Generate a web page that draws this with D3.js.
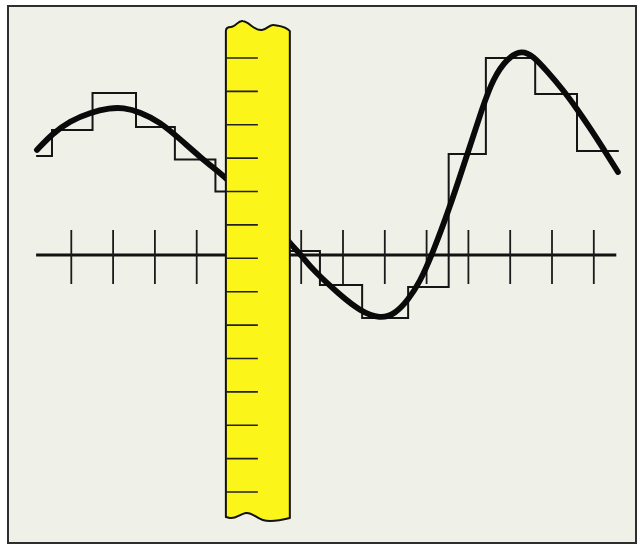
<!DOCTYPE html>
<html>
<head>
<meta charset="utf-8">
<script src="https://cdn.jsdelivr.net/npm/d3@7"></script>
<style>
  body { margin: 0; background: #fff; }
  svg { display: block; }
</style>
</head>
<body>
<svg class="chart"></svg>
<script>
// DATA /////////////////////////////////////////
// x in sample periods, y as fraction of full swing
const tickPositions = [1, 2, 3, 4, 6.5, 7.5, 8.5, 9.5, 10.5, 11.5, 12.5, 13.5];
const axisExtent = [0.17, 14.05];

const leftStepEdges = [0.17, 0.55, 1.52, 2.56, 3.49, 4.46, 5.0];
const leftStepLevels = [0.495, 0.625, 0.81, 0.64, 0.478, 0.318];
const rightStepEdges = [6.0, 6.96, 7.97, 9.07, 10.04, 10.93, 12.11, 13.11, 14.11];
const rightStepLevels = [0.02, -0.15, -0.315, -0.16, 0.505, 0.985, 0.805, 0.52];

const leftWaveX = [0.19, 0.55, 0.98, 1.46, 1.94, 2.25, 2.66, 3.13, 3.61, 4.09, 4.57, 4.76, 5.29];
const leftWaveY = [0.525, 0.605, 0.67, 0.712, 0.735, 0.737, 0.715, 0.665, 0.58, 0.49, 0.41, 0.375, 0.265];
const rightWaveX = [6.0, 6.24, 6.53, 6.79, 7.44, 7.92, 8.4, 8.76, 9.07, 9.35, 9.64, 10.07, 10.48, 10.86, 11.1, 11.44, 11.79, 12.06, 12.39, 12.78, 13.11, 13.42, 13.73, 14.09];
const rightWaveY = [0.115, 0.06, -0.005, -0.075, -0.2, -0.28, -0.32, -0.295, -0.225, -0.135, 0, 0.24, 0.5, 0.745, 0.88, 0.985, 1.025, 0.995, 0.92, 0.825, 0.73, 0.635, 0.535, 0.415];

const rulerSpan = [4.71, 6.24];
const rulerTicks = [0, 1, 2, 3, 4, 5, 6, 7, 8, 9, 10, 11, 12, 13];

// DEFINITIONS //////////////////////////////////
const W = 638, H = 546;
const svg = d3.select(".chart").attr("width", W).attr("height", H);

const x = d3.scaleLinear().domain([0, 14]).range([29, 29 + 14 * 41.8]);
const y = d3.scaleLinear().domain([-1, 1]).range([455, 55]);
const rulerY = d3.scaleLinear().domain([0, 13]).range([58, 492]);

// paper + frame
svg.append("rect")
  .attr("x", 8).attr("y", 6).attr("width", 628).attr("height", 537)
  .attr("fill", "#eff1e8").attr("stroke", "#2e2e2e").attr("stroke-width", 2);

// AXIS /////////////////////////////////////////
svg.append("line")
  .attr("x1", x(axisExtent[0])).attr("x2", x(axisExtent[1]))
  .attr("y1", y(0)).attr("y2", y(0))
  .attr("stroke", "#111").attr("stroke-width", 3);

const axisG = svg.append("g")
  .attr("transform", `translate(0, ${y(0) - 25})`)
  .call(d3.axisBottom(x).tickValues(tickPositions).tickSize(54).tickFormat(""));
axisG.select(".domain").remove();
axisG.selectAll(".tick line").attr("stroke", "#1a1a1a").attr("stroke-width", 1.8);

// STEPS ////////////////////////////////////////
const stepLine = d3.line().x((d) => x(d[0])).y((d) => y(d[1])).curve(d3.curveStepAfter);
const stepPoints = (edges, levels) =>
  edges.map((e, i) => [e, levels[Math.min(i, levels.length - 1)]]);

[[leftStepEdges, leftStepLevels], [rightStepEdges, rightStepLevels]].forEach(([e, l]) => {
  svg.append("path")
    .attr("d", stepLine(stepPoints(e, l)))
    .attr("fill", "none").attr("stroke", "#151515").attr("stroke-width", 2);
});

// WAVE /////////////////////////////////////////
const waveLine = d3.line().x((d) => x(d[0])).y((d) => y(d[1])).curve(d3.curveBasis);
[[leftWaveX, leftWaveY], [rightWaveX, rightWaveY]].forEach(([xs, ys]) => {
  svg.append("path")
    .attr("d", waveLine(xs.map((v, i) => [v, ys[i]])))
    .attr("fill", "none").attr("stroke", "#0a0a0a")
    .attr("stroke-width", 5.8).attr("stroke-linecap", "round");
});

// RULER ////////////////////////////////////////
const rl = x(rulerSpan[0]), rr = x(rulerSpan[1]);
const rp = d3.path();
rp.moveTo(rl, 517);
rp.lineTo(rl, 31);
rp.quadraticCurveTo(rl, 27, rl + 5, 27);
rp.bezierCurveTo(rl + 10, 27, rl + 12, 20, rl + 17, 21);
rp.bezierCurveTo(rl + 24, 22, rl + 28, 31, rl + 36, 30);
rp.bezierCurveTo(rl + 42, 29, rl + 44, 24, rl + 48, 25);
rp.bezierCurveTo(rl + 54, 26, rr - 4, 26, rr, 31);
rp.lineTo(rr, 518);
rp.bezierCurveTo(rr - 8, 520, rr - 20, 522, rr - 27, 520);
rp.bezierCurveTo(rr - 34, 518, rr - 38, 512, rr - 44, 513);
rp.bezierCurveTo(rr - 50, 514, rr - 54, 519, rl + 4, 518);
rp.closePath();

svg.append("path")
  .attr("d", rp.toString())
  .attr("fill", "#fcf51a").attr("stroke", "#111").attr("stroke-width", 2)
  .attr("stroke-linejoin", "round");

svg.append("g")
  .selectAll("line")
  .data(rulerTicks)
  .join("line")
  .attr("x1", rl).attr("x2", rl + 32)
  .attr("y1", (d) => rulerY(d)).attr("y2", (d) => rulerY(d))
  .attr("stroke", "#222").attr("stroke-width", 1.6);
</script>
</body>
</html>
